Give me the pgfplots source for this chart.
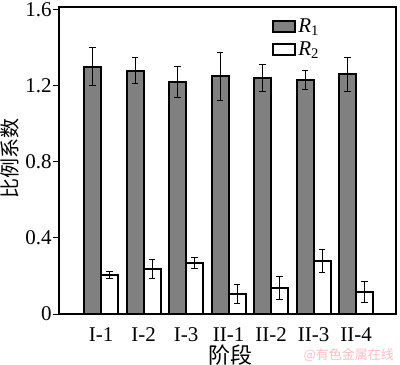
\documentclass[border=0pt]{standalone}
\usepackage{fontspec}
\setmainfont{Liberation Serif}
\newfontfamily\cjk{Noto Sans CJK SC}
\usepackage{pgfplots}
\usepackage{pgfplotstable}
\pgfplotsset{compat=1.18}
\pgfplotstableread{
x y e
0 1.30 0.100
1 1.28 0.070
2 1.22 0.080
3 1.25 0.125
4 1.24 0.070
5 1.23 0.050
6 1.26 0.090
}\rone
\pgfplotstableread{
x y e
0 0.205 0.020
1 0.237 0.050
2 0.268 0.027
3 0.105 0.050
4 0.135 0.060
5 0.278 0.060
6 0.115 0.055
}\rtwo
\begin{document}
\begin{tikzpicture}
\begin{axis}[
  scale only axis,
  width=168.5pt, height=153.5pt,
  xmin=-0.99, xmax=6.94,
  ymin=0, ymax=1.615,
  ybar=0pt, bar width=8.5pt,
  axis line style={line width=0.6pt},
  xtick=data,
  xticklabels={I-1,I-2,I-3,II-1,II-2,II-3,II-4},
  xtick style={draw=none},
  ytick={0,0.4,0.8,1.2,1.6},
  yticklabels={0,0.4,0.8,1.2,1.6},
  ytick pos=left,
  tick align=outside,
  major tick length=3pt,
  ytick style={line width=0.5pt, black},
  tick label style={font=\rmfamily\fontsize{10.5}{12}\selectfont},
  yticklabel style={inner xsep=0.5pt},
  xticklabel style={yshift=-0.5pt},
  ylabel={\cjk\fontsize{10}{12}\selectfont 比例系数},
  xlabel={\cjk\fontsize{11}{12}\selectfont 阶段},
  ylabel style={at={(axis description cs:-0.1454,0.505)}, anchor=center},
  xlabel style={at={(axis description cs:0.51,-0.134)}, anchor=center},
  legend style={at={(0.632,0.975)}, anchor=north west, draw=none, fill=none,
    inner sep=0pt, row sep=0pt,
    font=\fontsize{10.5}{12}\selectfont,
    nodes={inner xsep=1pt, inner ysep=0pt, text height=8.5pt, text depth=3pt},
    /tikz/every even column/.append style={column sep=1pt}},
  legend cell align=left,
  clip=false,
]
\coordinate (sw) at (rel axis cs:0,0);
\coordinate (ne) at (rel axis cs:1,1);
\addplot[fill=gray, draw=black, line width=1pt,
  legend image code/.code={\draw[fill=gray, draw=black, line width=1pt] (0pt,-2.75pt) rectangle (11pt,2.75pt);},
  error bars/.cd, y dir=both, y explicit,
  error bar style={line width=0.5pt, black},
  error mark options={rotate=90, line width=0.5pt, black, mark size=1.6pt}]
  table[x=x, y=y, y error=e] {\rone};
\addlegendentry{\textit{R}\textsubscript{1}}
\addplot[fill=white, draw=black, line width=1pt,
  legend image code/.code={\draw[fill=white, draw=black, line width=1pt] (0pt,-2.75pt) rectangle (11pt,2.75pt);},
  error bars/.cd, y dir=both, y explicit,
  error bar style={line width=0.5pt, black},
  error mark options={rotate=90, line width=0.5pt, black, mark size=1.6pt}]
  table[x=x, y=y, y error=e] {\rtwo};
\addlegendentry{\textit{R}\textsubscript{2}}
\node[anchor=east, inner sep=0pt, text=red!25, font=\cjk\fontsize{6.5}{7}\selectfont] at (rel axis cs:0.995,-0.134) {@有色金属在线};
\end{axis}
\pgfresetboundingbox
\path[use as bounding box] ([shift={(-29.5pt,-25pt)}]sw) rectangle ([shift={(2pt,3.5pt)}]ne);
\end{tikzpicture}
\end{document}
